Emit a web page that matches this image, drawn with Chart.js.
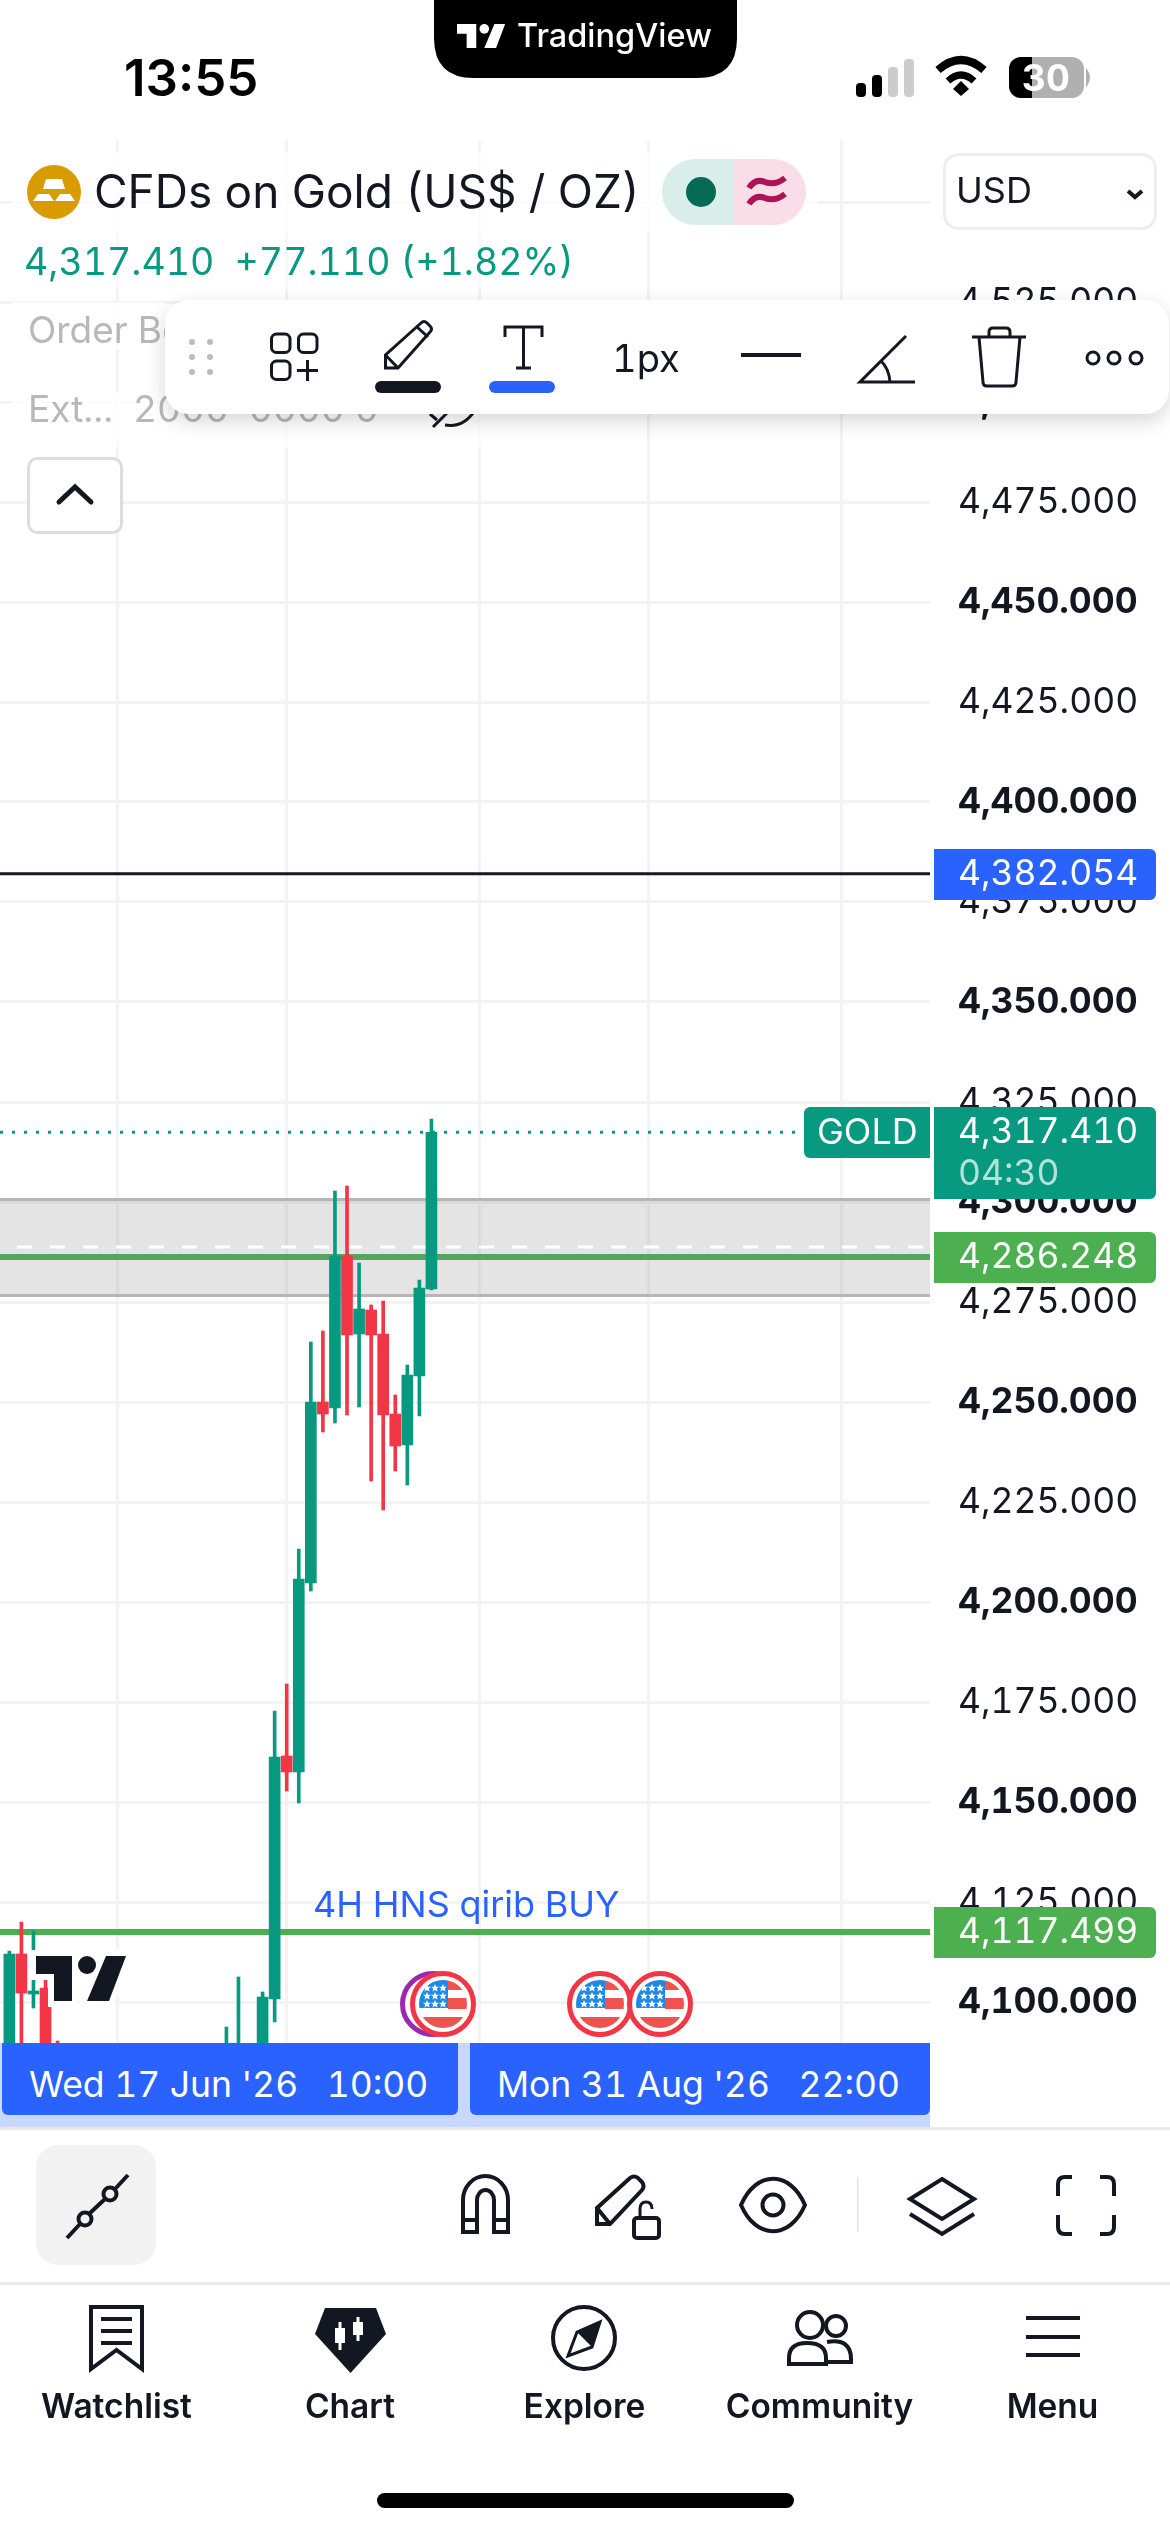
<!DOCTYPE html>
<html><head><meta charset="utf-8"><title>CFDs on Gold</title>
<script src="https://cdn.jsdelivr.net/npm/chart.js@4"></script>
<style>
html,body{margin:0;padding:0;background:#fff;width:1170px;height:2532px;overflow:hidden}
#c{position:absolute;left:0;top:0;width:1170px;height:2532px;font-feature-settings:"tnum" 1;font-variant-numeric:tabular-nums}
#ui{position:absolute;left:0;top:0}
#ui text{font-family:Inter,sans-serif;fill:#131722;white-space:pre;font-feature-settings:"tnum" 1;font-variant-numeric:tabular-nums}
#ui text.prop{font-feature-settings:normal;font-variant-numeric:normal}
.s{fill:none;stroke:#131722;stroke-width:4}
.t{fill:none;stroke:#131722;stroke-width:3}
</style></head><body>
<canvas id="c" width="1170" height="2532"></canvas>
<svg id="ui" width="1170" height="2532" viewBox="0 0 1170 2532" xmlns="http://www.w3.org/2000/svg">
<defs>
<g id="tv"><path d="M0 0H36V45H18V18H0Z"/><circle cx="51" cy="9" r="9"/><path d="M70 0H90L73 45H51Z"/></g>
<clipPath id="fc"><circle cx="0" cy="0" r="24"/></clipPath>
<polygon id="st" points="0,-4 1.2,-1.3 4,-1.2 1.9,.6 2.5,3.4 0,1.9 -2.5,3.4 -1.9,.6 -4,-1.2 -1.2,-1.3" fill="#fff"/>
<g id="flag">
<circle r="30.5" fill="#fff" stroke="#f23645" stroke-width="5"/>
<g clip-path="url(#fc)">
<rect x="-24" y="-24" width="48" height="48" fill="#fff"/>
<rect x="5" y="-24" width="19" height="10" fill="#ef5350"/>
<rect x="5" y="-6" width="19" height="11" fill="#ef5350"/>
<rect x="-24" y="13" width="48" height="11" fill="#ef5350"/>
<rect x="-24" y="-24" width="29" height="28" fill="#1e88e5"/>
<use href="#st" x="-16" y="-16"/><use href="#st" x="-8" y="-16"/><use href="#st" x="0" y="-16"/>
<use href="#st" x="-16" y="-8"/><use href="#st" x="-8" y="-8"/><use href="#st" x="0" y="-8"/>
<use href="#st" x="-16" y="0"/><use href="#st" x="-8" y="0"/><use href="#st" x="0" y="0"/>
</g></g>
</defs>

<!-- chart watermark and event marks -->
<g transform="translate(36,1956)"><use href="#tv" fill="#fff" stroke="#fff" stroke-width="12" stroke-linejoin="miter"/><use href="#tv" fill="#131722"/></g>
<circle cx="433" cy="2004" r="30.5" fill="#fff" stroke="#9c27b0" stroke-width="5"/>
<use href="#flag" x="443" y="2004"/><use href="#flag" x="600" y="2004"/><use href="#flag" x="660" y="2004"/>

<!-- time axis -->
<rect x="0" y="2043" width="930" height="84" fill="#c8d7fd"/>
<path d="M2 2043H458V2109a6 6 0 0 1-6 6H8a6 6 0 0 1-6-6Z" fill="#2962ff"/>
<path d="M470 2043H930V2109a6 6 0 0 1-6 6H476a6 6 0 0 1-6-6Z" fill="#2962ff"/>
<text x="29" y="2097" font-size="35.5" style="fill:#fff">Wed 17 Jun '26   10:00</text>
<text x="497" y="2097" font-size="35.5" style="fill:#fff">Mon 31 Aug '26   22:00</text>
<rect x="0" y="2127" width="1170" height="3" fill="#ebebeb"/>
<rect x="0" y="2282" width="1170" height="3" fill="#ebebeb"/>

<!-- legend backing -->
<rect x="12" y="152" width="806" height="80" fill="#fff" fill-opacity=".7"/>
<rect x="12" y="232" width="580" height="58" fill="#fff" fill-opacity=".5"/>
<rect x="12" y="302" width="153" height="48" fill="#fff" fill-opacity=".7"/>
<rect x="12" y="392" width="480" height="55" fill="#fff" fill-opacity=".7"/>

<!-- status bar -->
<path d="M434 0H737V38Q737 78 697 78H474Q434 78 434 38Z" fill="#000"/>
<g transform="translate(457,24) scale(.535)" fill="#fff"><use href="#tv"/></g>
<text x="517" y="47" font-size="32.5" font-weight="500" style="fill:#fff">TradingView</text>
<text class="prop" x="124" y="96" font-size="51" font-weight="600" style="fill:#000">13:55</text>
<rect x="856" y="83" width="10" height="14" rx="4" fill="#000"/>
<rect x="872" y="75" width="10" height="22" rx="4" fill="#000"/>
<rect x="888" y="67" width="10" height="30" rx="4" fill="#ccc"/>
<rect x="904" y="59" width="10" height="38" rx="4" fill="#ccc"/>
<path d="M938 70Q961 50 984 70" fill="none" stroke="#000" stroke-width="8"/>
<path d="M948 81Q961 69 974 81" fill="none" stroke="#000" stroke-width="7"/>
<path d="M953 89L961 81L969 89L961 96Z" fill="#000"/>
<rect x="1009" y="57" width="75" height="41" rx="12" fill="#b0b0b0"/>
<path d="M1021 57H1032V98H1021A12 12 0 0 1 1009 86V69A12 12 0 0 1 1021 57Z" fill="#000"/>
<path d="M1087 71Q1091 77 1087 84Z" fill="#b0b0b0" stroke="#b0b0b0" stroke-width="2"/>
<text x="1046" y="91" font-size="37" font-weight="700" text-anchor="middle" style="fill:#fff">30</text>

<!-- header -->
<circle cx="54" cy="192" r="27" fill="#d89b00"/>
<path d="M46 179H62L65 189H43ZM33 201L38 194H49L54 201ZM55 201L60 194H70L75 201Z" fill="#fff"/>
<text x="94" y="208" font-size="46">CFDs on Gold (US$ / OZ)</text>
<path d="M695 159H734V225H695A33 33 0 0 1 662 192A33 33 0 0 1 695 159Z" fill="#d9eeeb"/>
<path d="M734 159H773A33 33 0 0 1 806 192A33 33 0 0 1 773 225H734Z" fill="#fadde7"/>
<circle cx="701" cy="192" r="15" fill="#066a55"/>
<path d="M749 188Q755 178 765 182T785 178M749 204Q755 194 765 198T785 194" fill="none" stroke="#ad1457" stroke-width="6"/>
<text x="24" y="275" font-size="37.5" style="fill:#089981">4,317.410  +77.110 (+1.82%)</text>
<rect x="944.5" y="154.5" width="211" height="74" rx="14" fill="#fff" stroke="#ededed" stroke-width="3"/>
<text x="956" y="203" font-size="36">USD</text>
<path d="M1128 191L1135 197L1142 191" class="s"/>

<!-- hidden legend rows -->
<text x="28" y="343" font-size="37" style="fill:#b8b8b8">Order Book</text>
<text x="28" y="422" font-size="37" style="fill:#b8b8b8">Ext...  2000  0000 0</text>
<path d="M433 427L452 408M430 414L437 420M445 425Q464 428 475 410" class="t"/>
<rect x="28.5" y="458.5" width="93" height="74" rx="9" fill="#fff" stroke="#ddd" stroke-width="3"/>
<path d="M59 502L75 487L91 502" fill="none" stroke="#131722" stroke-width="5" stroke-linecap="round"/>

<!-- drawing toolbar -->
<rect x="165" y="300" width="1004" height="114" rx="24" fill="#fff" style="filter:drop-shadow(0 7px 10px rgba(0,0,0,.16))"/>
<g fill="#bbb"><circle cx="192" cy="342" r="3"/><circle cx="210" cy="342" r="3"/><circle cx="192" cy="357" r="3"/><circle cx="210" cy="357" r="3"/><circle cx="192" cy="372" r="3"/><circle cx="210" cy="372" r="3"/></g>
<rect x="271.5" y="334" width="18.5" height="18.5" rx="5" class="t"/><rect x="298.5" y="334" width="18.5" height="18.5" rx="5" class="t"/><rect x="271.5" y="361" width="18.5" height="18.5" rx="5" class="t"/>
<path d="M297 370.5H318M307.5 360V381" class="t"/>
<path d="M385.500 368V355L421 323Q424 320 427 323L430 326Q433 329 430 332L398 368ZM385.500 355L398 368M417 327L428 337" class="t"/>
<rect x="375" y="381" width="66" height="12" rx="6" fill="#131722"/>
<path d="M505 337V327H542V337M523.500 327V368M516 368H531" class="t"/>
<rect x="489" y="381" width="66" height="12" rx="6" fill="#2962ff"/>
<text x="612" y="372" font-size="38">1px</text>
<path d="M741 355H801" class="s"/>
<path d="M906 336L860 382H915M880 360Q889 368 890 382" class="t"/>
<path d="M972 337H1026M979 337L983 382Q983 386 987 386H1012Q1016 386 1016 382L1020 337M989 337V332Q989 328 993 328H1006Q1010 328 1010 332V337" class="t"/>
<circle cx="1093" cy="358" r="6" class="t"/><circle cx="1114" cy="358" r="6" class="t"/><circle cx="1136" cy="358" r="6" class="t"/>

<!-- bottom tools -->
<rect x="36" y="2145" width="120" height="120" rx="22" fill="#f2f2f2"/>
<path d="M67 2238L80 2224M90 2213L105 2199M115 2189L128 2175" class="s"/><circle cx="85" cy="2219" r="6.500" class="s"/><circle cx="110" cy="2194" r="6.500" class="s"/>
<path d="M463 2232V2200A22.500 24 0 0 1 508 2200V2232H494V2200A8.500 10 0 0 0 477 2200V2232ZM463 2220H477M494 2220H508" class="s"/>
<path d="M597 2224V2208L630 2178Q634 2175 638 2178L642 2182Q645 2186 642 2190L610 2224ZM597 2208L610 2224" class="t" style="stroke-width:4"/>
<rect x="634" y="2218" width="25" height="20" rx="3" class="s"/><path d="M640 2217V2209Q640 2202 646 2202Q652 2202 652 2209" class="t"/>
<path d="M741 2205C756 2170 790 2170 805 2205C790 2240 756 2240 741 2205Z" class="s"/><circle cx="773" cy="2205" r="10.500" class="s"/>
<rect x="857" y="2177" width="1.500" height="55" fill="#e5e5e5"/>
<path d="M942 2179L974 2199L942 2219L910 2199ZM910 2214L942 2234L974 2214" class="s"/>
<path d="M1058 2196V2184Q1058 2177 1065 2177H1072M1100 2177H1107Q1114 2177 1114 2184V2196M1114 2215V2227Q1114 2234 1107 2234H1100M1072 2234H1065Q1058 2234 1058 2227V2215" class="s"/>

<!-- navigation -->
<path d="M91 2307H142V2369L116.500 2350L91 2369Z" class="s"/><path d="M101 2319H132M101 2331H132M101 2343H132" class="s"/>
<path d="M325 2308H376L386 2334L350.500 2373L315 2334Z" fill="#131722"/>
<path d="M340 2322V2350M358 2317V2341" stroke="#fff" stroke-width="3" fill="none"/><rect x="335" y="2328" width="10" height="15" fill="#fff"/><rect x="353" y="2322" width="10" height="13" fill="#fff"/>
<circle cx="584" cy="2338" r="31" class="s"/><path d="M600 2322L592 2347L568 2356L577 2332Z" class="t"/><path d="M600 2322L577 2332L592 2347Z" fill="#131722"/>
<circle cx="810" cy="2325" r="13" class="s"/><circle cx="836" cy="2326" r="10" class="s"/>
<path d="M789 2364V2358Q789 2343 807 2343Q826 2343 826 2358V2364ZM827 2342Q851 2338 851 2359V2362H828" class="s"/>
<path d="M1026 2318H1080M1026 2337H1080M1026 2355H1080" class="s"/>
<g font-size="33.5" font-weight="600" text-anchor="middle">
<text x="116.500" y="2418">Watchlist</text><text x="350" y="2418">Chart</text><text x="584.500" y="2418">Explore</text><text x="819.500" y="2418">Community</text><text x="1052.500" y="2418">Menu</text>
</g>
<rect x="377" y="2493" width="417" height="15" rx="7.500" fill="#000"/>
</svg>
<script>
// candle slots shown on the chart (bar numbers along the time axis)
const categories=[0,1,2,3,4,18,19,21,22,23,24,25,26,27,28,29,30,31,32,33,34,35];
const opens =[4078,4112,4102,4103.5,4088,4080.5,4081.75,4085.5,4100.75,4161.5,4157.5,4204.75,4250,4248.5,4286.5,4267,4273,4267,4247,4239.25,4256.5,4278.25];
const highs =[4112.75,4120,4117.75,4105.5,4090.25,4093.75,4106.25,4102.5,4172.75,4179.5,4213.25,4265,4267.75,4302.75,4304,4284.75,4274.25,4275.25,4251.75,4259.25,4280.5,4320.75];
const lows  =[4075.5,4085.5,4098.5,4079.25,4075.5,4078,4079.25,4083,4095,4152.75,4149.75,4202.75,4242.5,4244.75,4246.75,4248.75,4230.25,4223,4232.75,4229.25,4246.5,4278];
const closes=[4112,4102.25,4102.75,4083,4078,4088,4088,4101.25,4161.25,4157.5,4205.75,4250,4247,4286.5,4266.75,4273.25,4266.75,4246.75,4239,4256.75,4278.5,4317.41];
// vertical grid positions, in bar numbers
const timeGrid=[9,23,39,53,69];
// price axis tick labels
const priceTicks=[4100,4125,4150,4175,4200,4225,4250,4275,4300,4325,4350,4375,4400,4425,4450,4475,4500,4525,4550];
// price levels
const lastPrice=4317.41, lastCountdown='04:30', symbolTag='GOLD';
const blackLine=4382.054, midGreen=4286.248, lowGreen=4117.499;
const boxTop=4300.625, boxBottom=4276.625, boxDash=4288.75;
const noteText='4H HNS qirib BUY';
const xMin=-0.774, xMax=76.34, yMin=4089.75, yMax=4565.25;

const UP='#089981', DOWN='#f23645', GREEN='#4caf50', BLUE='#2962ff', GRID='#f3f3f4';
const fmt=v=>v.toLocaleString('en-US',{minimumFractionDigits:3,maximumFractionDigits:3});
const tint=categories.map((_,i)=>closes[i]>=opens[i]?UP:DOWN);
const hline=(v,o)=>Object.assign({type:'line',data:[{x:xMin,y:v},{x:xMax,y:v}],pointRadius:0,tension:0,fill:false},o);

const datasets=[
 hline(boxTop,{order:20,borderColor:'#b6b6b6',borderWidth:3,fill:{value:boxBottom},backgroundColor:'rgba(110,110,110,.19)'}),
 hline(boxBottom,{order:19,borderColor:'#b6b6b6',borderWidth:3}),
 hline(boxDash,{order:18,borderColor:'#fff',borderWidth:3,borderDash:[15,18],borderDashOffset:16}),
 hline(midGreen,{order:17,borderColor:'#57a55a',borderWidth:6}),
 hline(lowGreen,{order:16,borderColor:GREEN,borderWidth:6}),
 hline(blackLine,{order:15,borderColor:'#131722',borderWidth:3}),
 hline(lastPrice,{order:14,borderColor:UP,borderWidth:3,borderDash:[3,9]}),
 {type:'bar',order:2,grouped:false,barThickness:3,backgroundColor:tint,data:categories.map((x,i)=>({x,y:[lows[i],highs[i]]}))},
 {type:'bar',order:1,grouped:false,barThickness:11,backgroundColor:tint,data:categories.map((x,i)=>({x,y:[opens[i],closes[i]]}))}
];

function tag(ctx,x,y,w,h,rl,rr,col){ctx.fillStyle=col;ctx.beginPath();ctx.roundRect(x,y,w,h,[rl,rr,rr,rl]);ctx.fill();}
const tags={id:'tags',afterDraw(ch){
  const c=ch.ctx,y=ch.scales.y;c.save();
  const F='35.5px Inter';c.font=F;c.textBaseline='alphabetic';c.textAlign='left';
  const axisTag=(v,col)=>{const p=Math.round(y.getPixelForValue(v));tag(c,934,p-25,222,51,0,6,col);c.fillStyle='#fff';c.fillText(fmt(v),958,p+11);};
  axisTag(blackLine,BLUE);axisTag(midGreen,GREEN);axisTag(lowGreen,GREEN);
  const p=Math.round(y.getPixelForValue(lastPrice));
  tag(c,804,p-25,126,51,6,0,UP);c.fillStyle='#fff';c.font='36px Inter';c.fillText(symbolTag,817,p+12);
  c.font=F;tag(c,934,p-25,222,92,0,6,UP);c.fillStyle='#fff';c.fillText(fmt(lastPrice),958,p+11);
  c.fillStyle='rgba(255,255,255,.7)';c.fillText(lastCountdown,958,p+53);
  c.font='36px Inter';c.fillStyle=BLUE;c.fillText(noteText,313,Math.round(y.getPixelForValue(lowGreen))-15);
  c.restore();
}};

new Chart(document.getElementById('c'),{
 type:'bar',
 data:{datasets},
 plugins:[tags],
 options:{
  responsive:false,animation:false,devicePixelRatio:1,
  layout:{padding:{top:141,bottom:489,left:0,right:0}},
  plugins:{legend:{display:false},tooltip:{enabled:false},title:{display:false}},
  scales:{
   x:{type:'linear',min:xMin,max:xMax,offset:false,
      grid:{color:GRID,lineWidth:3,drawTicks:false,offset:false},border:{display:false},
      ticks:{display:false},
      afterBuildTicks(s){s.ticks=timeGrid.map(value=>({value}));},
      afterFit(s){s.height=0;}},
   y:{type:'linear',position:'right',min:yMin,max:yMax,
      grid:{color:GRID,lineWidth:3,drawTicks:false},border:{display:false},
      afterBuildTicks(s){s.ticks=priceTicks.map(value=>({value}));},
      afterFit(s){s.width=240;},
      ticks:{autoSkip:false,padding:28,color:'#131722',
        font(ctx){const b=ctx.tick&&ctx.tick.value%50===0;return{family:'Inter',size:35.5,weight:b?'700':'400'};},
        callback:v=>fmt(v)}}
  }
 }
});
</script>
</body></html>
